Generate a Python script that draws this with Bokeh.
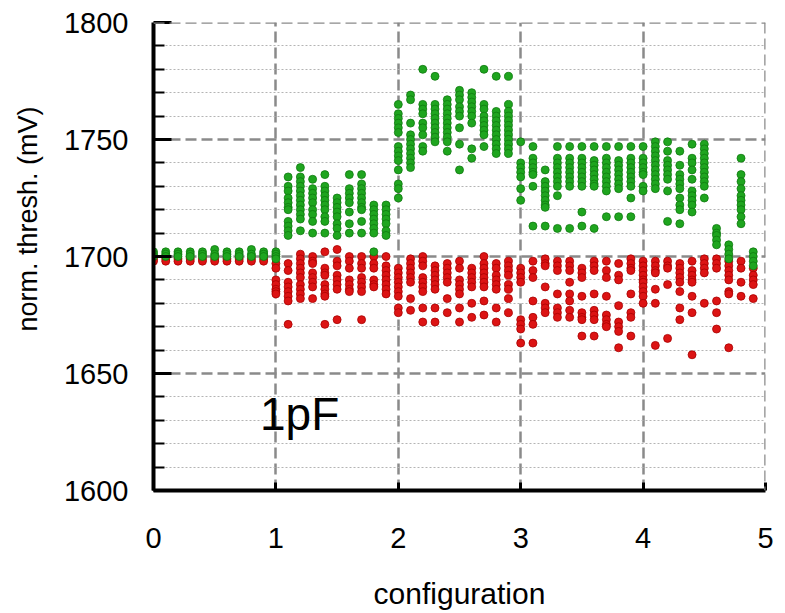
from bokeh.plotting import figure
from bokeh.models import Range1d, FixedTicker, Label, Span
from bokeh.embed import file_html
from bokeh.resources import INLINE

# configuration positions (one column of points each)
configs = [0.0, 0.1, 0.2, 0.3, 0.4, 0.5, 0.6, 0.7, 0.8, 0.9,
           1.0, 1.1, 1.2, 1.3, 1.4, 1.5, 1.6, 1.7, 1.8, 1.9,
           2.0, 2.1, 2.2, 2.3, 2.4, 2.5, 2.6, 2.7, 2.8, 2.9,
           3.0, 3.1, 3.2, 3.3, 3.4, 3.5, 3.6, 3.7, 3.8, 3.9,
           4.0, 4.1, 4.2, 4.3, 4.4, 4.5, 4.6, 4.7, 4.8, 4.9]

# upper thresholds (green), mV, one list per configuration
green_mv = [
    [1702, 1701, 1700], [1702, 1701, 1700], [1702, 1701, 1700], [1702, 1701, 1700], [1702, 1701, 1700],
    [1703, 1701, 1700], [1702, 1701, 1700], [1702, 1701, 1700], [1703, 1701, 1700], [1702, 1701, 1700],
    [1702, 1701, 1700, 1699],
    [1734, 1730, 1728, 1725, 1723, 1721, 1720, 1715, 1713, 1711, 1709],
    [1738, 1734, 1732, 1730, 1728, 1726, 1724, 1722, 1720, 1718, 1716, 1711],
    [1733, 1729, 1727, 1725, 1723, 1720, 1718, 1715, 1710],
    [1735, 1730, 1728, 1726, 1724, 1722, 1720, 1717, 1715, 1710],
    [1725, 1723, 1721, 1719, 1717, 1714, 1712, 1709],
    [1735, 1729, 1727, 1725, 1723, 1719, 1714, 1710],
    [1735, 1731, 1729, 1727, 1725, 1723, 1721, 1720, 1715, 1710],
    [1722, 1720, 1718, 1716, 1714, 1712, 1710, 1702],
    [1722, 1720, 1718, 1716, 1714, 1711, 1709],
    [1765, 1761, 1759, 1757, 1755, 1753, 1747, 1745, 1743, 1741, 1737, 1731, 1729, 1725],
    [1769, 1767, 1757, 1752, 1750, 1748, 1746, 1744, 1742, 1740, 1738],
    [1780, 1765, 1763, 1761, 1757, 1755, 1752, 1747, 1745],
    [1777, 1765, 1763, 1761, 1759, 1757, 1755, 1753, 1751, 1749],
    [1767, 1765, 1763, 1761, 1759, 1757, 1755, 1753, 1751, 1749, 1745],
    [1771, 1769, 1767, 1764, 1762, 1760, 1755, 1748, 1737],
    [1770, 1768, 1766, 1764, 1762, 1760, 1757, 1746, 1742],
    [1780, 1765, 1763, 1760, 1758, 1756, 1754, 1752, 1747],
    [1777, 1762, 1760, 1758, 1756, 1754, 1752, 1750, 1748, 1746, 1744],
    [1777, 1765, 1762, 1760, 1758, 1756, 1754, 1752, 1750, 1748, 1746, 1744],
    [1749, 1740, 1738, 1736, 1734, 1729, 1724],
    [1747, 1742, 1740, 1738, 1736, 1735, 1730, 1713],
    [1737, 1732, 1730, 1728, 1726, 1724, 1722, 1721, 1713],
    [1747, 1742, 1740, 1738, 1736, 1734, 1732, 1730, 1726, 1712],
    [1747, 1742, 1740, 1738, 1736, 1734, 1732, 1730, 1712],
    [1747, 1742, 1740, 1738, 1736, 1734, 1732, 1730, 1719, 1713],
    [1747, 1741, 1739, 1737, 1735, 1733, 1731, 1730, 1712],
    [1747, 1742, 1740, 1738, 1736, 1734, 1732, 1730, 1728, 1717],
    [1747, 1741, 1739, 1737, 1735, 1733, 1731, 1729, 1717],
    [1747, 1742, 1740, 1738, 1736, 1734, 1732, 1730, 1725, 1717],
    [1747, 1742, 1740, 1738, 1736, 1735, 1730, 1728],
    [1749, 1747, 1745, 1743, 1741, 1739, 1737, 1735, 1733, 1731, 1729],
    [1749, 1745, 1741, 1739, 1737, 1735, 1733, 1728, 1715],
    [1745, 1739, 1735, 1733, 1731, 1729, 1725, 1722, 1720, 1714],
    [1748, 1742, 1740, 1737, 1733, 1728, 1726, 1724, 1722, 1719],
    [1748, 1746, 1744, 1742, 1740, 1738, 1736, 1734, 1732, 1730, 1725],
    [1712, 1710, 1709, 1707, 1705],
    [1705, 1703, 1701, 1699],
    [1742, 1735, 1732, 1729, 1726, 1724, 1722, 1720, 1717, 1714],
    [1702, 1700, 1698, 1696],
]

# lower thresholds (red), mV, one list per configuration
red_mv = [
    [1699, 1698], [1699, 1698], [1699, 1698], [1699, 1698], [1699, 1698],
    [1699, 1698], [1699, 1698], [1699, 1698], [1699, 1698], [1699, 1698],
    [1697, 1695, 1690, 1688, 1686, 1685, 1684],
    [1697, 1694, 1689, 1687, 1685, 1683, 1681, 1671],
    [1701, 1699, 1697, 1695, 1693, 1691, 1688, 1686, 1684, 1682],
    [1700, 1698, 1697, 1693, 1691, 1689, 1687, 1682],
    [1702, 1695, 1693, 1692, 1688, 1686, 1684, 1683, 1671],
    [1703, 1698, 1696, 1692, 1690, 1688, 1686, 1673],
    [1700, 1698, 1695, 1690, 1688, 1686, 1685],
    [1700, 1697, 1695, 1691, 1689, 1687, 1685, 1673],
    [1700, 1697, 1695, 1690, 1688, 1687],
    [1700, 1696, 1694, 1692, 1690, 1688, 1686, 1684],
    [1695, 1693, 1691, 1689, 1687, 1685, 1683, 1678, 1676],
    [1699, 1697, 1695, 1693, 1691, 1689, 1682, 1677],
    [1700, 1698, 1696, 1691, 1689, 1687, 1685, 1678, 1672],
    [1696, 1694, 1692, 1690, 1688, 1686, 1678, 1672],
    [1697, 1695, 1693, 1691, 1689, 1682, 1676],
    [1698, 1695, 1690, 1688, 1686, 1684, 1678, 1672],
    [1695, 1693, 1691, 1689, 1687, 1680, 1674],
    [1700, 1697, 1695, 1693, 1691, 1689, 1687, 1681, 1675],
    [1697, 1695, 1692, 1690, 1688, 1686, 1678, 1672],
    [1698, 1696, 1694, 1692, 1688, 1686, 1682, 1676],
    [1695, 1693, 1691, 1689, 1673, 1671, 1669, 1663],
    [1698, 1694, 1691, 1681, 1674, 1671, 1663],
    [1699, 1697, 1696, 1687, 1680, 1678, 1676],
    [1698, 1696, 1694, 1684, 1678, 1676, 1674],
    [1698, 1696, 1694, 1689, 1684, 1681, 1677, 1674],
    [1695, 1693, 1691, 1683, 1676, 1674, 1673, 1666],
    [1698, 1696, 1694, 1684, 1677, 1675, 1673, 1666],
    [1698, 1694, 1691, 1683, 1675, 1673, 1671, 1670],
    [1697, 1692, 1690, 1679, 1672, 1670, 1668, 1661],
    [1699, 1697, 1695, 1694, 1684, 1676, 1674, 1666],
    [1698, 1696, 1694, 1692, 1690, 1689, 1687, 1685, 1683, 1680],
    [1698, 1696, 1694, 1693, 1686, 1680, 1662],
    [1698, 1696, 1695, 1688, 1665],
    [1697, 1695, 1693, 1691, 1689, 1685, 1678, 1673],
    [1698, 1694, 1692, 1690, 1689, 1683, 1676, 1658],
    [1699, 1697, 1695, 1693, 1680],
    [1699, 1697, 1695, 1681, 1676, 1669],
    [1698, 1696, 1694, 1692, 1690, 1685, 1684, 1661],
    [1698, 1695, 1689, 1683],
    [1695, 1692, 1690, 1688, 1682],
]

x_ticks = [0, 1, 2, 3, 4, 5]
y_ticks = [1600, 1650, 1700, 1750, 1800]
y_minor = [1610, 1620, 1630, 1640, 1660, 1670, 1680, 1690,
           1710, 1720, 1730, 1740, 1760, 1770, 1780, 1790]
x_title = "configuration"
y_title = "norm. thresh. (mV)"
cap_label = "1pF"


def flatten(xs, groups):
    px, py = [], []
    for x, g in zip(xs, groups):
        for v in g:
            px.append(x)
            py.append(v)
    return px, py


gx, gy = flatten(configs, green_mv)
rx, ry = flatten(configs, red_mv)

FONT = "Liberation Sans"
GRID = "#8a8a8a"

p = figure(frame_width=612, frame_height=468,
           min_border_left=153, min_border_right=20,
           min_border_top=22, min_border_bottom=123,
           x_range=Range1d(0, 5), y_range=Range1d(1600, 1800),
           output_backend="svg", toolbar_location=None,
           background_fill_color="white", border_fill_color="white")
p.outline_line_color = None

# grids
p.xgrid.ticker = FixedTicker(ticks=x_ticks)
p.ygrid.ticker = FixedTicker(ticks=y_ticks, minor_ticks=y_minor)
for g in (p.xgrid, p.ygrid):
    g.grid_line_color = GRID
    g.grid_line_width = 2.5
    g.grid_line_dash = "11 5"
p.ygrid.minor_grid_line_color = "#b4b4b4"
p.ygrid.minor_grid_line_width = 1
p.ygrid.minor_grid_line_dash = "2 2"

# frame edges drawn as dashed grid-style lines (top and right)
p.add_layout(Span(location=y_ticks[-1], dimension="width", line_color=GRID,
                  line_width=2.5, line_dash="11 5"))
p.add_layout(Span(location=x_ticks[-1], dimension="height", line_color=GRID,
                  line_width=2.5, line_dash="11 5"))

# axes
p.xaxis.ticker = FixedTicker(ticks=x_ticks)
p.yaxis.ticker = FixedTicker(ticks=y_ticks, minor_ticks=y_minor)
for ax in (p.xaxis, p.yaxis):
    ax.axis_line_color = "black"
    ax.axis_line_width = 4
    ax.major_tick_line_color = "black"
    ax.major_tick_line_width = 3
    ax.major_tick_out = 0
    ax.minor_tick_out = 0
    ax.major_label_text_font = FONT
    ax.major_label_text_font_size = "29px"
    ax.major_label_text_color = "black"
    ax.axis_label_text_font = FONT
    ax.axis_label_text_font_style = "normal"
    ax.axis_label_text_color = "black"
p.yaxis.major_tick_in = 18
p.yaxis.minor_tick_in = 11
p.yaxis.minor_tick_line_color = "black"
p.yaxis.minor_tick_line_width = 2
p.xaxis.major_tick_in = 8
p.xaxis.minor_tick_line_color = None
p.yaxis.major_label_standoff = 25
p.xaxis.major_label_standoff = 37

p.xaxis.axis_label = x_title
p.xaxis.axis_label_text_font_size = "30px"
p.xaxis.axis_label_standoff = 26

# leading no-break spaces lift the rotated title above the frame centre
p.yaxis.axis_label = "\u00a0" * 10 + y_title
p.yaxis.axis_label_text_font_size = "27px"
p.yaxis.axis_label_standoff = 18

p.scatter(rx, ry, size=8, fill_color="#dc1414", line_color="#a80000", line_width=0.8)
p.scatter(gx, gy, size=8, fill_color="#1fa51f", line_color="#0f7a0f", line_width=0.8)

p.add_layout(Label(x=0.87, y=1621.5, text=cap_label, text_font=FONT,
                   text_font_size="46px", text_color="black"))

open("out.html", "w").write(file_html(p, INLINE))
